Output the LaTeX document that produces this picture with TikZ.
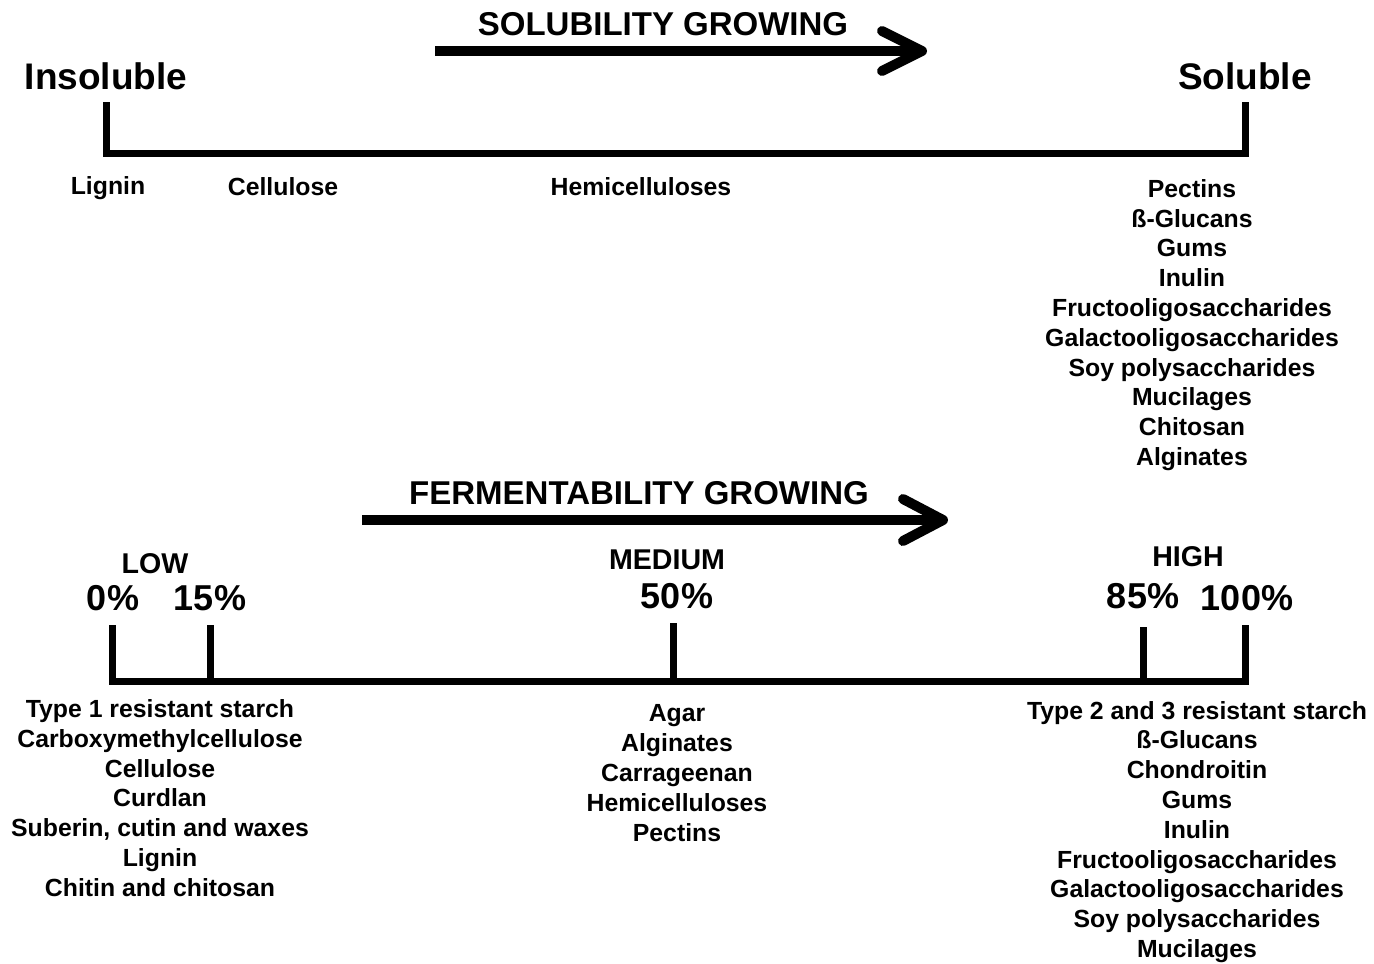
\documentclass[tikz,border=0pt]{standalone}
\usepackage{fontspec}
\setmainfont{Liberation Sans}
\usetikzlibrary{calc}
\begin{document}
\begin{tikzpicture}[x=1pt,y=-1pt,
  axis/.style={line width=7pt, line cap=butt, line join=miter},
  shaft/.style={line width=10pt, line cap=butt},
  chev/.style={line width=10pt, line cap=round, line join=round},
  lbl/.style={font=\bfseries\fontsize{24.8}{29.8}\selectfont, align=center, inner sep=0pt},
  endlbl/.style={font=\bfseries\fontsize{37}{44}\selectfont, inner sep=0pt},
  title/.style={font=\bfseries\fontsize{33}{40}\selectfont, inner sep=0pt},
  lvl/.style={font=\bfseries\fontsize{28.6}{34}\selectfont, inner sep=0pt},
  pct/.style={font=\bfseries\fontsize{36}{42}\selectfont, inner sep=0pt}]
\useasboundingbox (0,0) rectangle (1374,964);

% ---- solubility ----
\node[title] (soltitle) at (663,24) {SOLUBILITY GROWING};
\coordinate (sa) at (435,51);
\coordinate (sb) at (915,51);
\coordinate (stip) at (922,51);
\draw[shaft] (sa) -- (sb);
\draw[chev] ($(stip)+(-40,-20)$) -- (stip) -- ($(stip)+(-40,20)$);

\node[endlbl] (insol) at (106,76) {Insoluble};
\node[endlbl] (sol) at (1245,76) {Soluble};

\coordinate (tl) at (106,102);
\coordinate (tr) at (1245,102);
\coordinate (bl) at (106,153.5);
\draw[axis] (tl) |- (tr |- bl) -- (tr);

\node[lbl] (lig) at (108,188) {Lignin};
\node[lbl] (cel) at (283,187) {Cellulose};
\node[lbl] (hem) at (641,187) {Hemicelluloses};
\node[lbl] (solist) at (1192,325) {Pectins\\ß-Glucans\\Gums\\Inulin\\Fructooligosaccharides\\Galactooligosaccharides\\Soy polysaccharides\\Mucilages\\Chitosan\\Alginates};

% ---- fermentability ----
\node[title] (fertitle) at (639,493) {FERMENTABILITY GROWING};
\coordinate (fa) at (362,520);
\coordinate (fb) at (936,520);
\coordinate (ftip) at (943,520);
\draw[shaft] (fa) -- (fb);
\draw[chev] ($(ftip)+(-40,-21)$) -- (ftip) -- ($(ftip)+(-40,21)$);

\node[lvl] (low) at (155,564) {LOW};
\node[lvl] (med) at (667,560) {MEDIUM};
\node[lvl] (high) at (1188,557) {HIGH};

\node[pct] (p0) at (113,598) {0\%};
\node[pct] (p15) at (210,598) {15\%};
\node[pct] (p50) at (677,596) {50\%};
\node[pct] (p85) at (1143,596) {85\%};
\node[pct] (p100) at (1247,598) {100\%};

\coordinate (t0) at (112,625);
\coordinate (t15) at (210,625);
\coordinate (t50) at (673,623);
\coordinate (t85) at (1143.5,627);
\coordinate (t100) at (1245,625);
\coordinate (base) at (112,681);
\draw[axis] (t0) |- (t100 |- base) -- (t100);
\draw[axis] (t15) -- (t15 |- base);
\draw[axis] (t50) -- (t50 |- base);
\draw[axis] (t85) -- (t85 |- base);

\node[lbl] (lowlist) at (160,798) {Type 1 resistant starch\\Carboxymethylcellulose\\Cellulose\\Curdlan\\Suberin, cutin and waxes\\Lignin\\Chitin and chitosan};
\node[lbl] (medlist) at (677,773) {Agar\\Alginates\\Carrageenan\\Hemicelluloses\\Pectins};
\node[lbl] (highlist) at (1197,832) {Type 2 and 3 resistant starch\\ß-Glucans\\Chondroitin\\Gums\\Inulin\\Fructooligosaccharides\\Galactooligosaccharides\\Soy polysaccharides\\Mucilages};
\end{tikzpicture}
\end{document}
